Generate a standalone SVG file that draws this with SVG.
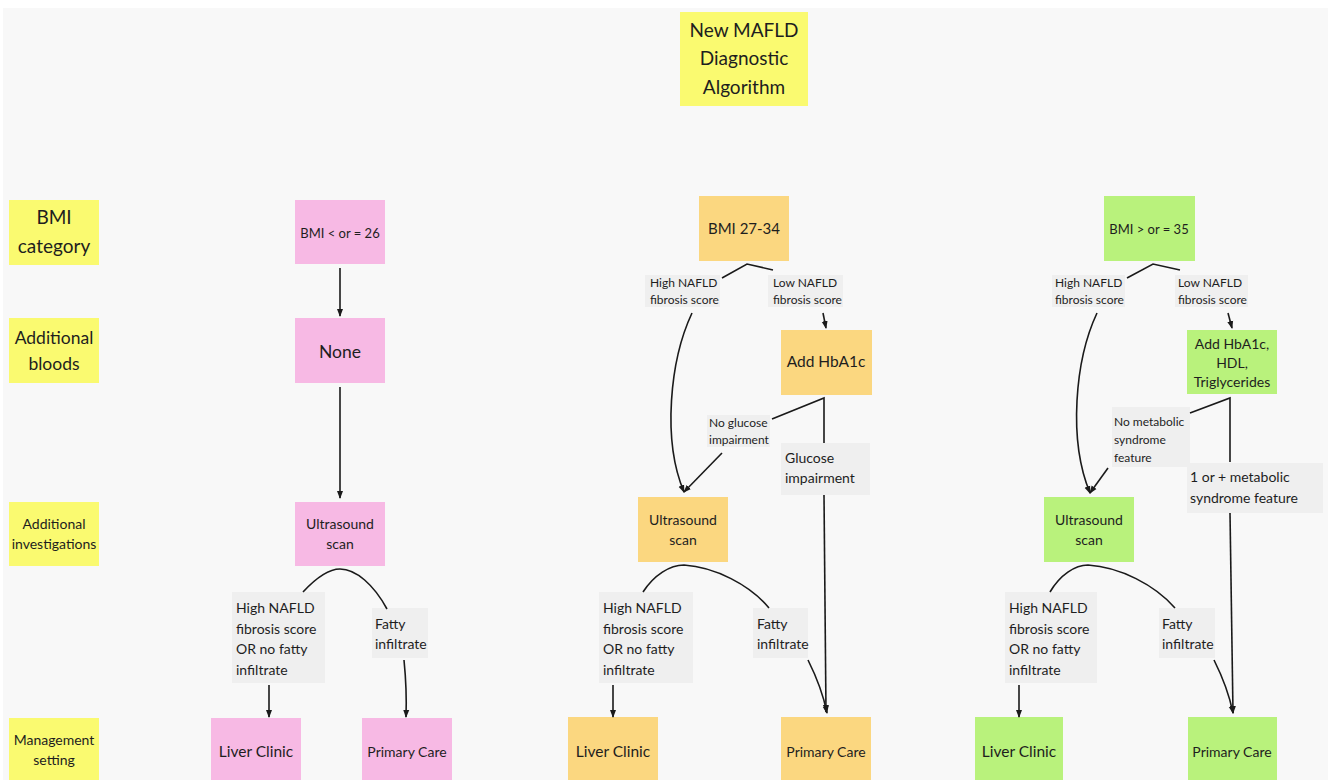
<svg xmlns="http://www.w3.org/2000/svg" width="1328" height="780" viewBox="0 0 1328 780">
<defs>
<marker id="ah" markerUnits="userSpaceOnUse" markerWidth="8" markerHeight="8" viewBox="0 0 8 8" refX="7" refY="4" orient="auto">
<path d="M0,1 L8,4 L0,7 Z" fill="#1a1a1a"/>
</marker>
<style>
text{font-family:Lato,"Open Sans","Liberation Sans",sans-serif;fill:#1e1e1e}
.c{text-anchor:middle}
.y{fill:#fafa70}
.p{fill:#f7b9e4}
.o{fill:#fbd780}
.g{fill:#b9f27c}
.lb{fill:#efefef}
.ln{fill:none;stroke:#1a1a1a;stroke-width:1.6}
.ar{marker-end:url(#ah)}
.s12{font-size:12px}
.s13{font-size:13px}
.s14{font-size:14px}
.s15{font-size:15px}
.s16{font-size:15.5px}
.s17{font-size:17.5px}
.s19{font-size:19px}
</style>
</defs>
<rect x="0" y="0" width="1328" height="780" fill="#ffffff"/>
<rect x="3" y="8" width="1325" height="772" fill="#f8f8f8"/>

<g id="title"><rect class="y" x="680" y="12" width="128" height="94"/>
<text class="c s19" x="744" y="37">New MAFLD</text><text class="c s19" x="744" y="65">Diagnostic</text><text class="c s19" x="744" y="94">Algorithm</text></g>

<g id="row-bmi"><rect class="y" x="9" y="200" width="90" height="65"/>
<text class="c s19" x="54" y="224">BMI</text><text class="c s19" x="54" y="253">category</text></g>
<g id="row-bloods"><rect class="y" x="9" y="318" width="90" height="65"/>
<text class="c s17" x="54" y="344">Additional</text><text class="c s17" x="54" y="370">bloods</text></g>
<g id="row-invest"><rect class="y" x="9" y="502" width="90" height="64"/>
<text class="c s14" x="54" y="529">Additional</text><text class="c s14" x="54" y="549">investigations</text></g>
<g id="row-mgmt"><rect class="y" x="9" y="718" width="90" height="62"/>
<text class="c s14" x="54" y="745">Management</text><text class="c s14" x="54" y="765">setting</text></g>

<!-- column 1 -->
<g id="bmi26"><rect class="p" x="295" y="200" width="90" height="64"/><text class="c s13" x="340" y="238">BMI &lt; or = 26</text></g>
<g id="none"><rect class="p" x="295" y="318" width="90" height="65"/><text class="c s17" x="340" y="358">None</text></g>
<g id="us1"><rect class="p" x="295" y="502" width="90" height="64"/><text class="c s14" x="340" y="529">Ultrasound</text><text class="c s14" x="340" y="549">scan</text></g>
<g id="liver1"><rect class="p" x="211" y="718" width="90" height="62"/><text class="c s16" x="256" y="757">Liver Clinic</text></g>
<g id="pc1"><rect class="p" x="362" y="718" width="90" height="62"/><text class="c s14" x="407" y="757">Primary Care</text></g>
<g id="l1a"><rect class="lb" x="232" y="592" width="93" height="91"/>
<text class="s14" x="236" y="613">High NAFLD</text><text class="s14" x="236" y="634">fibrosis score</text><text class="s14" x="236" y="654">OR no fatty</text><text class="s14" x="236" y="675">infiltrate</text></g>
<g id="l1b"><rect class="lb" x="372" y="608" width="56" height="50"/>
<text class="s14" x="375" y="629">Fatty</text><text class="s14" x="375" y="649">infiltrate</text></g>

<!-- column 2 -->
<g id="bmi2734"><rect class="o" x="699" y="196" width="90" height="65"/><text class="c s15" x="744" y="234">BMI 27-34</text></g>
<g id="hba1c"><rect class="o" x="781" y="330" width="91" height="65"/><text class="c s16" x="826" y="367">Add HbA1c</text></g>
<g id="us2"><rect class="o" x="638" y="497" width="90" height="65"/><text class="c s14" x="683" y="525">Ultrasound</text><text class="c s14" x="683" y="545">scan</text></g>
<g id="liver2"><rect class="o" x="568" y="717" width="90" height="63"/><text class="c s16" x="613" y="757">Liver Clinic</text></g>
<g id="pc2"><rect class="o" x="781" y="717" width="90" height="63"/><text class="c s14" x="826" y="757">Primary Care</text></g>
<g id="l2a"><rect class="lb" x="645" y="275" width="75" height="32"/>
<text class="s12" x="650" y="287">High NAFLD</text><text class="s12" x="650" y="304">fibrosis score</text></g>
<g id="l2b"><rect class="lb" x="768" y="275" width="75" height="32"/>
<text class="s12" x="773" y="287">Low NAFLD</text><text class="s12" x="773" y="304">fibrosis score</text></g>
<g id="l2c"><rect class="lb" x="707" y="415" width="63" height="32"/>
<text class="s12" x="709" y="427">No glucose</text><text class="s12" x="709" y="444">impairment</text></g>
<g id="l2d"><rect class="lb" x="781" y="443" width="89" height="52"/>
<text class="s14" x="785" y="463">Glucose</text><text class="s14" x="785" y="483">impairment</text></g>
<g id="l2e"><rect class="lb" x="599" y="592" width="94" height="91"/>
<text class="s14" x="603" y="613">High NAFLD</text><text class="s14" x="603" y="634">fibrosis score</text><text class="s14" x="603" y="654">OR no fatty</text><text class="s14" x="603" y="675">infiltrate</text></g>
<g id="l2f"><rect class="lb" x="753" y="608" width="55" height="50"/>
<text class="s14" x="757" y="629">Fatty</text><text class="s14" x="757" y="649">infiltrate</text></g>

<!-- column 3 -->
<g id="bmi35"><rect class="g" x="1104" y="196" width="91" height="65"/><text class="c s13" x="1149" y="234">BMI &gt; or = 35</text></g>
<g id="hdl"><rect class="g" x="1187" y="330" width="90" height="64"/>
<text class="c s14" x="1232" y="349">Add HbA1c,</text><text class="c s14" x="1232" y="368">HDL,</text><text class="c s14" x="1232" y="387">Triglycerides</text></g>
<g id="us3"><rect class="g" x="1044" y="497" width="90" height="65"/><text class="c s14" x="1089" y="525">Ultrasound</text><text class="c s14" x="1089" y="545">scan</text></g>
<g id="liver3"><rect class="g" x="975" y="717" width="88" height="63"/><text class="c s16" x="1019" y="757">Liver Clinic</text></g>
<g id="pc3"><rect class="g" x="1188" y="717" width="89" height="63"/><text class="c s14" x="1232" y="757">Primary Care</text></g>
<g id="l3a"><rect class="lb" x="1052" y="275" width="73" height="32"/>
<text class="s12" x="1055" y="287">High NAFLD</text><text class="s12" x="1055" y="304">fibrosis score</text></g>
<g id="l3b"><rect class="lb" x="1175" y="275" width="73" height="32"/>
<text class="s12" x="1178" y="287">Low NAFLD</text><text class="s12" x="1178" y="304">fibrosis score</text></g>
<g id="l3c"><rect class="lb" x="1112" y="407" width="78" height="60"/>
<text class="s12" x="1114" y="426">No metabolic</text><text class="s12" x="1114" y="444">syndrome</text><text class="s12" x="1114" y="462">feature</text></g>
<g id="l3d"><rect class="lb" x="1187" y="463" width="136" height="50"/>
<text class="s14" x="1190" y="482">1 or + metabolic</text><text class="s14" x="1190" y="503">syndrome feature</text></g>
<g id="l3e"><rect class="lb" x="1005" y="592" width="92" height="91"/>
<text class="s14" x="1009" y="613">High NAFLD</text><text class="s14" x="1009" y="634">fibrosis score</text><text class="s14" x="1009" y="654">OR no fatty</text><text class="s14" x="1009" y="675">infiltrate</text></g>
<g id="l3f"><rect class="lb" x="1159" y="608" width="56" height="50"/>
<text class="s14" x="1162" y="629">Fatty</text><text class="s14" x="1162" y="649">infiltrate</text></g>

<g id="connectors">
<path class="ln ar" d="M340,268 L340,316"/>
<path class="ln ar" d="M340,387 L340,498"/>
<path class="ln" d="M303,592 C316,578 328,569 340,569 C356,569 374,585 387,609"/>
<path class="ln ar" d="M269,685 L269,717"/>
<path class="ln ar" d="M404,660 Q407,690 406,717"/>

<path class="ln" d="M722,278 L747,264 L773,270"/>
<path class="ln ar" d="M823,313 L826,328"/>
<path class="ln ar" d="M692,313 C670,360 662,440 684,492"/>
<path class="ln" d="M772,419 L824,398 L824,443"/>
<path class="ln ar" d="M722,453 L684,492"/>
<path class="ln ar" d="M824,495 L826,712"/>
<path class="ln" d="M643,592 C654,575 670,565 684,565 C715,567 750,585 769,608"/>
<path class="ln ar" d="M613,685 L613,717"/>
<path class="ln ar" d="M808,660 C818,680 824,698 827,713"/>

<path class="ln" d="M1127,278 L1153,264 L1180,270"/>
<path class="ln ar" d="M1228,313 L1232,328"/>
<path class="ln ar" d="M1097,313 C1075,360 1068,440 1090,493"/>
<path class="ln" d="M1190,413 L1230,398 L1230,462"/>
<path class="ln ar" d="M1108,468 L1090,493"/>
<path class="ln ar" d="M1230,513 L1233,713"/>
<path class="ln" d="M1050,592 C1060,575 1075,565 1088,565 C1120,567 1155,585 1175,608"/>
<path class="ln ar" d="M1019,685 L1019,717"/>
<path class="ln ar" d="M1214,660 C1224,680 1230,698 1233,713"/>
</g>
</svg>
